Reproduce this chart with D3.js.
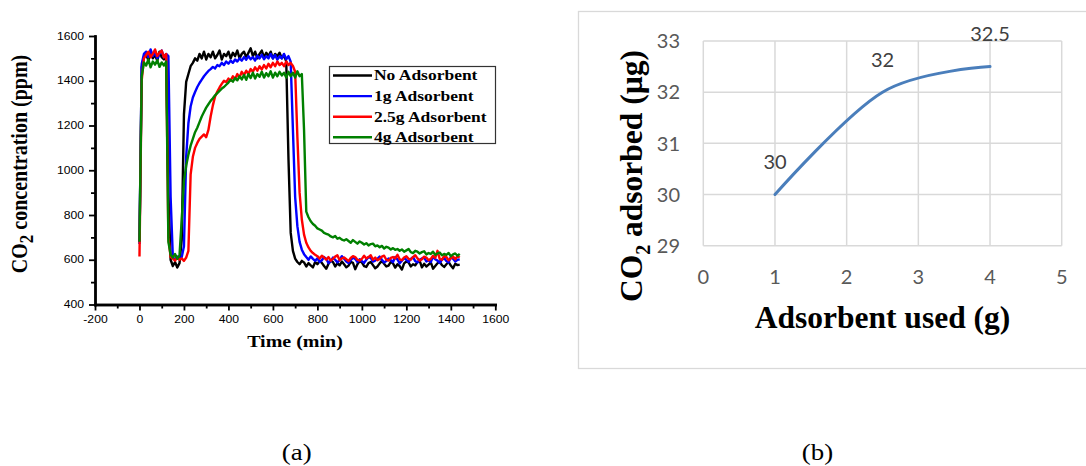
<!DOCTYPE html>
<html>
<head>
<meta charset="utf-8">
<script src="https://cdn.jsdelivr.net/npm/d3@7"></script>
<style>
  html, body { margin: 0; padding: 0; background: #fff; }
  svg { display: block; }
</style>
</head>
<body>
<svg id="fig" width="1086" height="466"></svg>
<script>
// ---- (a) CO2 concentration traces, one reading every 10 min from t = 0 ----
const sampleStep = 10;

const noAdsorbent = [
  680,1460,1505,1520,1490,1525,1500,1515,1490,1530,1505,1495,1515,
  900,600,572,590,565,585,690,
  1250,1395,1430,1465,1480,1500,
  1490,1520,1500,1530,1495,1520,1505,1530,1500,1515,1535,1495,1520,1510,1530,1500,1525,1510,1535,1500,
  1520,1530,1505,1525,1545,1510,1530,1500,1520,1535,1505,1525,1510,1530,1500,1520,1510,1525,1500,1515,
  1485,1050,720,640,605,590,
  580,595,588,570,585,575,566,590,580,595,586,572,560,582,596,590,570,585,575,592,
  580,566,574,590,586,558,580,594,588,572,568,585,590,576,562,570,584,595,582,570,
  574,590,584,565,580,572,556,584,592,588,570,580,575,590,595,566,582,570,578,588,
  560,572,584,592,576,568,580,590,574,562,582,576,578
];

const oneGram = [
  670,1475,1520,1530,1505,1540,1510,1525,1500,1520,1535,1505,1520,
  1510,880,612,600,615,605,612,
  660,1060,1210,1285,1325,1350,
  1372,1390,1405,1420,1432,1444,1452,1462,1455,1470,1465,1480,1470,1486,1476,1490,1480,1495,1486,1500,
  1490,1506,1494,1510,1496,1506,1490,1512,1500,1516,1496,1510,1500,1520,1500,1515,1494,1510,1500,1520,
  1496,1510,
  1485,1180,880,750,680,645,625,612,
  600,615,604,595,606,590,598,612,604,585,594,610,600,588,598,616,604,592,585,598,
  610,604,590,602,594,586,600,612,608,592,596,604,614,600,588,594,606,598,590,612,
  602,584,596,608,600,590,604,612,594,588,600,606,610,592,598,590,614,602,596,586,
  600,608,594,588,612,604,592,600,602
];

const twoHalfGram = [
  615,1400,1500,1515,1530,1505,1520,1540,1510,1525,1535,1505,1520,
  700,612,605,596,610,600,606,595,610,640,
  980,1060,1100,1122,1140,1150,1160,1148,1180,1240,1290,1330,1352,1370,1386,
  1400,1394,1410,1400,1420,1408,1430,1415,1440,1425,1445,1430,1452,1440,1460,1445,1465,1450,1470,1455,
  1476,1460,1480,1465,1486,1470,1480,1465,1486,1470,1480,1466,1440,
  1150,900,780,712,676,655,640,630,622,616,
  605,618,610,600,612,596,604,614,620,598,606,610,602,594,608,616,612,600,596,604,
  618,606,612,620,600,610,598,604,614,618,600,596,608,612,606,622,602,598,610,616,
  604,600,612,620,606,596,602,614,610,598,604,618,608,640,604,600,616,612,598,606,
  614,602,616,610
];

const fourGram = [
  680,1420,1482,1468,1495,1460,1486,1472,1492,1462,1482,1468,1486,
  680,622,610,626,604,620,
  780,950,1020,1070,1110,1140,1170,1190,1215,1240,1260,1280,1295,1310,1322,1335,1345,1355,1365,1372,
  1382,1392,
  1404,1396,1412,1402,1420,1406,1426,1404,1430,1412,1436,1410,1430,1418,1440,1414,1434,1420,1442,1414,
  1436,1420,1440,1424,1436,1414,1440,1420,1436,1414,1442,1420,1430,
  1180,815,790,772,760,752,740,735,730,720,716,712,704,700,706,694,698,690,686,692,
  684,676,688,680,672,682,676,668,674,664,670,672,660,664,656,662,650,658,654,646,
  652,644,648,640,646,636,642,648,634,630,640,636,628,634,638,624,630,626,636,622,
  628,632,620,626,622,630,616,624,628,618,626
];

const seriesNames  = ["No Adsorbent", "1g Adsorbent", "2.5g Adsorbent", "4g Adsorbent"];
const seriesColors = ["#000000", "#0000ff", "#ff0000", "#008000"];

const timeTicks      = [-200, 0, 200, 400, 600, 800, 1000, 1200, 1400, 1600];
const timeMinorTicks = [-100, 100, 300, 500, 700, 900, 1100, 1300, 1500];
const ppmTicks       = [400, 600, 800, 1000, 1200, 1400, 1600];
const ppmMinorTicks  = [500, 700, 900, 1100, 1300, 1500];

// ---- (b) CO2 adsorbed vs adsorbent mass ----
const adsorbentUsed = [1, 2.5, 4];
const co2Adsorbed   = [30, 32, 32.5];
const gramTicks     = [0, 1, 2, 3, 4, 5];
const ugTicks       = [29, 30, 31, 32, 33];

const svg = d3.select("#fig");
const serif = "'Liberation Serif', 'Times New Roman', serif";
const sans  = "'Liberation Sans', Arial, sans-serif";
const soft  = "Lato, 'Open Sans', sans-serif";
const plain = d => String(d);

// ================= panel (a) =================
const stretch = 1.22;   // the panel's lettering is drawn slightly wide
const xT = d3.scaleLinear().domain([-200, 1600]).range([95, 495.3]);
const yP = d3.scaleLinear().domain([400, 1600]).range([304.5, 36]);
const gA = svg.append("g");

const trace = d3.line()
  .x((d, i) => xT(i * sampleStep))
  .y(d => yP(d));

[noAdsorbent, oneGram, twoHalfGram, fourGram].forEach((s, k) => {
  gA.append("path")
    .attr("d", trace(s))
    .attr("fill", "none")
    .attr("stroke", seriesColors[k])
    .attr("stroke-width", 2.4)
    .attr("stroke-linejoin", "round");
});

// axes
const gx = gA.append("g").attr("transform", "translate(0,304.5)")
  .call(d3.axisBottom(xT).tickValues(timeTicks).tickFormat(plain).tickSize(6).tickPadding(5).tickSizeOuter(0));
const gxm = gA.append("g").attr("transform", "translate(0,304.5)")
  .call(d3.axisBottom(xT).tickValues(timeMinorTicks).tickSize(4).tickFormat("").tickSizeOuter(0));
const gy = gA.append("g").attr("transform", "translate(95,0)")
  .call(d3.axisLeft(yP).tickValues(ppmTicks).tickFormat(plain).tickSize(6).tickPadding(3).tickSizeOuter(0));
const gym = gA.append("g").attr("transform", "translate(95,0)")
  .call(d3.axisLeft(yP).tickValues(ppmMinorTicks).tickSize(4).tickFormat("").tickSizeOuter(0));

[gx, gxm, gy, gym].forEach(g => {
  g.select(".domain").attr("stroke", "#000").attr("stroke-width", 2.4).attr("stroke-linecap", "square");
  g.selectAll(".tick line").attr("stroke", "#000").attr("stroke-width", 1.8);
  g.selectAll(".tick text")
    .attr("fill", "#000")
    .attr("font-family", sans)
    .attr("font-size", 10)
    .attr("transform", `scale(${stretch},1)`);
});

// axis titles
const yl = gA.append("text")
  .attr("transform", `translate(27,164) scale(1.15,1) rotate(-90)`)
  .attr("text-anchor", "middle")
  .attr("font-family", serif).attr("font-weight", "bold").attr("font-size", 20)
  .attr("fill", "#000");
yl.append("tspan").text("CO");
yl.append("tspan").attr("dy", 5).attr("font-size", 17).text("2");
yl.append("tspan").attr("dy", -5).text(" concentration (ppm)");

gA.append("text")
  .attr("transform", `translate(295,346.5) scale(1.25,1)`)
  .attr("text-anchor", "middle")
  .attr("font-family", serif).attr("font-weight", "bold").attr("font-size", 16)
  .text("Time (min)");

// legend
const lg = gA.append("g");
lg.append("rect")
  .attr("x", 329.5).attr("y", 66.5).attr("width", 166).attr("height", 77)
  .attr("fill", "#fff").attr("stroke", "#333").attr("stroke-width", 1.2);
seriesNames.forEach((name, k) => {
  const yy = 75.5 + k * 20.6;
  lg.append("line")
    .attr("x1", 333).attr("x2", 372).attr("y1", yy).attr("y2", yy)
    .attr("stroke", seriesColors[k]).attr("stroke-width", 2.4);
  lg.append("text")
    .attr("transform", `translate(374,${yy + 4.8}) scale(1.25,1)`)
    .attr("font-family", serif).attr("font-weight", "bold").attr("font-size", 14)
    .text(name);
});

svg.append("text")
  .attr("transform", "translate(296.7,459.5) scale(1.12,1)")
  .attr("text-anchor", "middle")
  .attr("font-family", serif).attr("font-size", 24)
  .text("(a)");

// ================= panel (b) =================
const xG = d3.scaleLinear().domain([0, 5]).range([703.3, 1061.7]);
const yU = d3.scaleLinear().domain([29, 33]).range([245.7, 41]);
const gB = svg.append("g");

gB.append("rect")
  .attr("x", 578.5).attr("y", 11.5).attr("width", 520).attr("height", 357)
  .attr("fill", "#fff").attr("stroke", "#d9d9d9").attr("stroke-width", 1.3);

gB.selectAll("line.vgrid").data(gramTicks).join("line")
  .attr("class", "vgrid")
  .attr("x1", d => xG(d)).attr("x2", d => xG(d))
  .attr("y1", yU(33)).attr("y2", yU(29))
  .attr("stroke", "#d9d9d9").attr("stroke-width", 1.5);
gB.selectAll("line.hgrid").data(ugTicks).join("line")
  .attr("class", "hgrid")
  .attr("x1", xG(0)).attr("x2", xG(5))
  .attr("y1", d => yU(d)).attr("y2", d => yU(d))
  .attr("stroke", "#d9d9d9").attr("stroke-width", 1.5);

gB.selectAll("text.ytick").data(ugTicks).join("text")
  .attr("class", "ytick")
  .attr("x", 680).attr("y", d => yU(d)).attr("dy", "0.36em")
  .attr("text-anchor", "end")
  .attr("font-family", soft).attr("font-size", 20).attr("fill", "#595959")
  .text(d => d);
gB.selectAll("text.xtick").data(gramTicks).join("text")
  .attr("class", "xtick")
  .attr("x", d => xG(d)).attr("y", 284)
  .attr("text-anchor", "middle")
  .attr("font-family", soft).attr("font-size", 20).attr("fill", "#595959")
  .text(d => d);

const pts = adsorbentUsed.map((g, i) => [g, co2Adsorbed[i]]);
gB.append("path")
  .attr("d", d3.line().x(d => xG(d[0])).y(d => yU(d[1])).curve(d3.curveCardinal.tension(0))(pts))
  .attr("fill", "none")
  .attr("stroke", "#4a7ebb")
  .attr("stroke-width", 3)
  .attr("stroke-linecap", "round");

gB.selectAll("text.vlabel").data(pts).join("text")
  .attr("class", "vlabel")
  .attr("x", d => xG(d[0])).attr("y", d => yU(d[1]) - 32.5).attr("dy", "0.36em")
  .attr("text-anchor", "middle")
  .attr("font-family", soft).attr("font-size", 20).attr("fill", "#404040")
  .text(d => d[1]);

const yb = gB.append("text")
  .attr("transform", "translate(642,176) rotate(-90)")
  .attr("text-anchor", "middle")
  .attr("font-family", serif).attr("font-weight", "bold").attr("font-size", 31.5)
  .attr("fill", "#000");
yb.append("tspan").text("CO");
yb.append("tspan").attr("dy", 8).attr("font-size", 20).text("2");
yb.append("tspan").attr("dy", -8).text(" adsorbed (µg)");

gB.append("text")
  .attr("x", 882.5).attr("y", 328)
  .attr("text-anchor", "middle")
  .attr("font-family", serif).attr("font-weight", "bold").attr("font-size", 31.5)
  .text("Adsorbent used (g)");

svg.append("text")
  .attr("transform", "translate(817.5,459.5) scale(1.12,1)")
  .attr("text-anchor", "middle")
  .attr("font-family", serif).attr("font-size", 24)
  .text("(b)");
</script>
</body>
</html>
